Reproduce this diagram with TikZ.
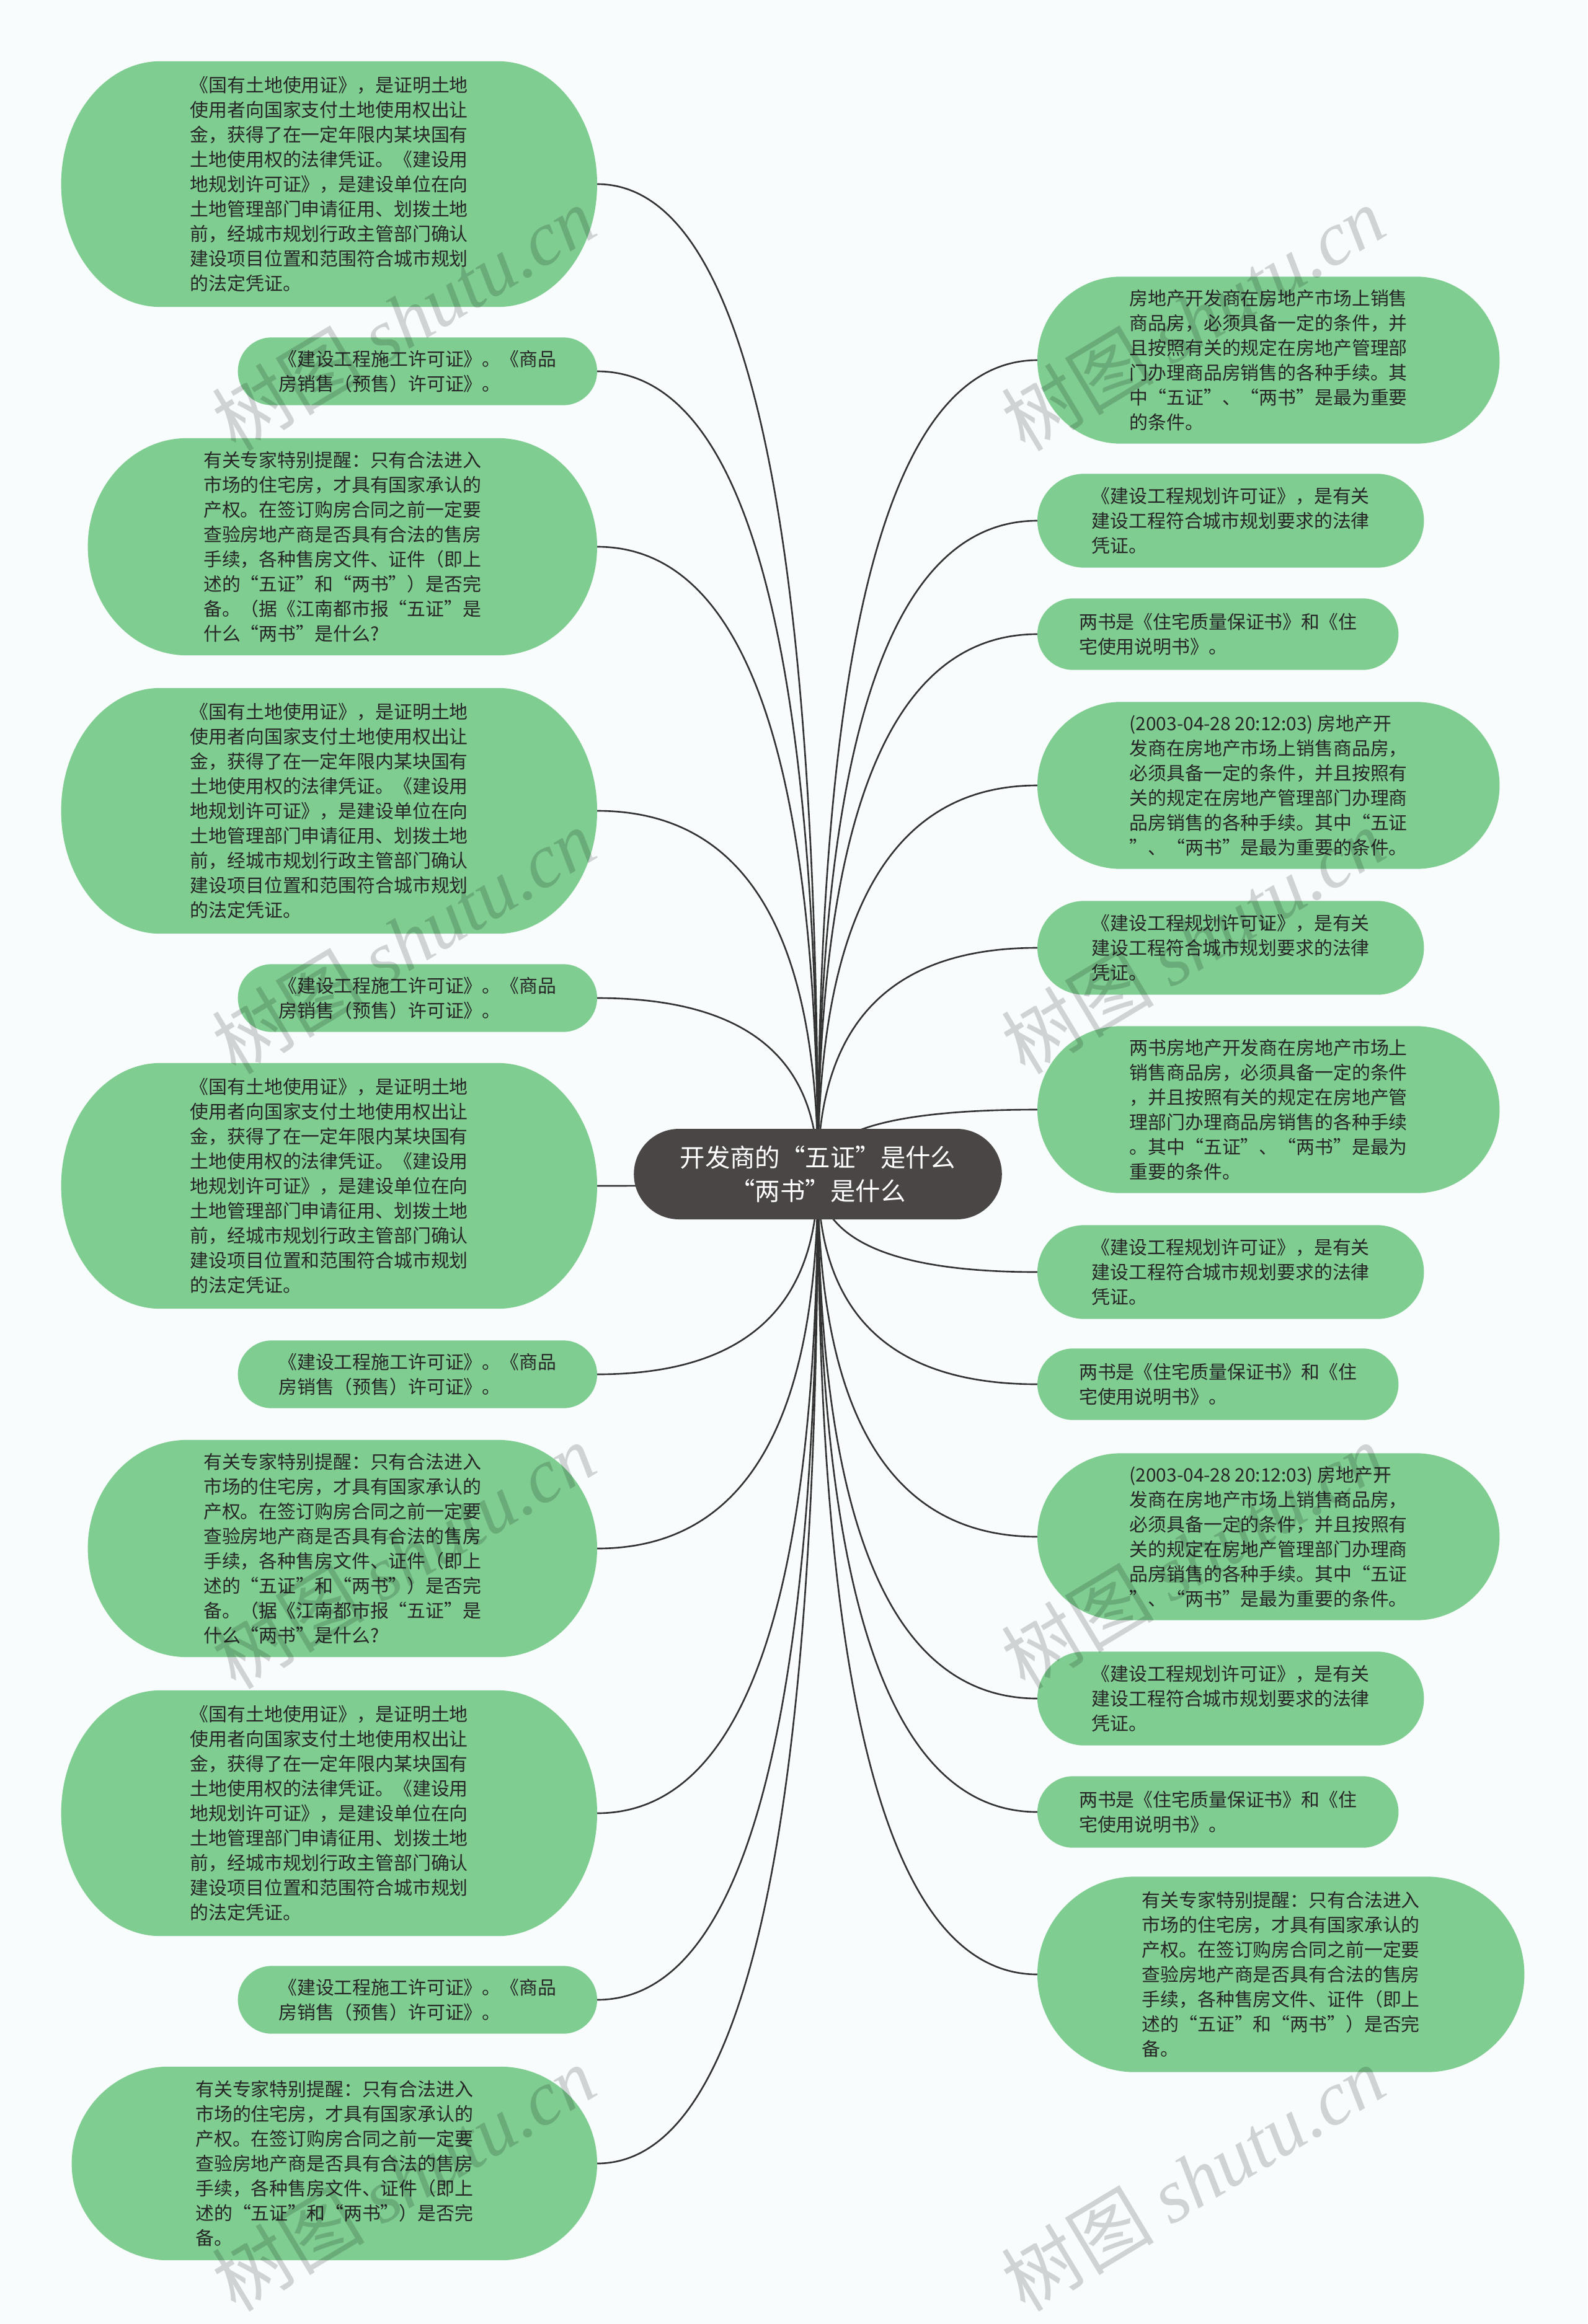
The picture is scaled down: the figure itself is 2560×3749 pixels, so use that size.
\documentclass[tikz,border=0pt]{standalone}
\usepackage{fontspec}
\setmainfont{Noto Sans CJK SC}
\newfontfamily\wmfont{Liberation Serif}
\usetikzlibrary{calc,backgrounds,shapes.misc}

\definecolor{bgcol}{HTML}{F8FCFC}
\definecolor{leafgreen}{HTML}{7FCD91}
\definecolor{rootgray}{HTML}{4B4646}
\definecolor{linkgray}{HTML}{333333}
\definecolor{leaftext}{HTML}{262626}

\tikzset{
  leaf/.style={inner sep=0pt, align=left, text=leaftext, font=\fontsize{8.5pt}{11.4pt}\selectfont},
  landbox/.style={leaf, minimum width=86.3mm, minimum height=39.5mm},
  permitbox/.style={leaf, minimum width=57.8mm, minimum height=10.8mm},
  tipbox/.style={leaf, minimum width=82mm, minimum height=34.9mm},
  salebox/.style={leaf, minimum width=74.4mm, minimum height=26.8mm},
  planbox/.style={leaf, minimum width=62.2mm, minimum height=15mm},
  bookbox/.style={leaf, minimum width=58.1mm, minimum height=11.4mm},
  rootbox/.style={rounded rectangle, fill=rootgray, text=white, align=center,
    minimum width=61.7mm, minimum height=14.6mm, font=\fontsize{11.5pt}{15.1pt}\selectfont},
  link/.style={draw=linkgray, line width=0.75pt},
  wmark/.style={text=black, text opacity=0.16, rotate=31, font=\fontsize{35pt}{40pt}\selectfont}
}

% leaf texts
\newcommand\landtext{《国有土地使用证》，是证明土地\\使用者向国家支付土地使用权出让\\金，获得了在一定年限内某块国有\\土地使用权的法律凭证。《建设用\\地规划许可证》，是建设单位在向\\土地管理部门申请征用、划拨土地\\前，经城市规划行政主管部门确认\\建设项目位置和范围符合城市规划\\的法定凭证。}
\newcommand\permittext{《建设工程施工许可证》。《商品\\房销售（预售）许可证》。}
\newcommand\notetext{有关专家特别提醒：只有合法进入\\市场的住宅房，才具有国家承认的\\产权。在签订购房合同之前一定要\\查验房地产商是否具有合法的售房\\手续，各种售房文件、证件（即上\\述的“五证”和“两书”）是否完\\备。}
\newcommand\tiptext{有关专家特别提醒：只有合法进入\\市场的住宅房，才具有国家承认的\\产权。在签订购房合同之前一定要\\查验房地产商是否具有合法的售房\\手续，各种售房文件、证件（即上\\述的“五证”和“两书”）是否完\\备。（据《江南都市报“五证”是\\什么“两书”是什么?}
\newcommand\saletext{房地产开发商在房地产市场上销售\\商品房，必须具备一定的条件，并\\且按照有关的规定在房地产管理部\\门办理商品房销售的各种手续。其\\中“五证”、“两书”是最为重要\\的条件。}
\newcommand\plantext{《建设工程规划许可证》，是有关\\建设工程符合城市规划要求的法律\\凭证。}
\newcommand\booktext{两书是《住宅质量保证书》和《住\\宅使用说明书》。}
\newcommand\datedtext{(2003-04-28 20:12:03) 房地产开\\发商在房地产市场上销售商品房，\\必须具备一定的条件，并且按照有\\关的规定在房地产管理部门办理商\\品房销售的各种手续。其中“五证\\”、“两书”是最为重要的条件。}
\newcommand\twotext{两书房地产开发商在房地产市场上\\销售商品房，必须具备一定的条件\\，并且按照有关的规定在房地产管\\理部门办理商品房销售的各种手续\\。其中“五证”、“两书”是最为\\重要的条件。}

% green pill behind a leaf
\newcommand\pill[1]{\fill[leafgreen] let \p1=(#1.north west), \p2=(#1.south east),
  \n1={0.5*(\y1-\y2)}, \n2={min(\n1,45.5pt)} in
  ({\x1+\n2},\y1) -- ({\x2-\n2},\y1) arc[start angle=90, end angle=-90, x radius=\n2, y radius=\n1]
  -- ({\x1+\n2},\y2) arc[start angle=-90, end angle=-270, x radius=\n2, y radius=\n1] -- cycle;}
\newcommand\branch[1]{\draw[link] (root.center) .. controls ($(root.center)!.667!(root.center |- #1)$)
  and ($(#1)!.667!(root.center |- #1)$) .. (#1);}

\begin{document}
\begin{tikzpicture}[x=0.1mm, y=-0.1mm]
\useasboundingbox (0,0) rectangle (2560,3749);

\node[rootbox] (root) at (1319,1894) {开发商的“五证”是什么\\“两书”是什么};

% left side
\node[landbox, anchor=east] (L1) at (963,297) {\landtext};
\node[permitbox, anchor=east] (L2) at (963,599) {\permittext};
\node[tipbox, anchor=east] (L3) at (963,882) {\tiptext};
\node[landbox, anchor=east] (L4) at (963,1308) {\landtext};
\node[permitbox, anchor=east] (L5) at (963,1610) {\permittext};
\node[landbox, anchor=east] (L6) at (963,1913) {\landtext};
\node[permitbox, anchor=east] (L7) at (963,2217) {\permittext};
\node[tipbox, anchor=east] (L8) at (963,2498) {\tiptext};
\node[landbox, anchor=east] (L9) at (963,2925) {\landtext};
\node[permitbox, anchor=east] (L10) at (963,3226) {\permittext};
\node[leaf, minimum width=84.6mm, minimum height=31.1mm, anchor=east] (L11) at (963,3490) {\notetext};

% right side
\node[salebox, anchor=west] (R1) at (1673,581) {\saletext};
\node[planbox, anchor=west] (R2) at (1673,840) {\plantext};
\node[bookbox, anchor=west] (R3) at (1673,1023) {\booktext};
\node[salebox, anchor=west] (R4) at (1673,1267) {\datedtext};
\node[planbox, anchor=west] (R5) at (1673,1529) {\plantext};
\node[salebox, anchor=west] (R6) at (1673,1790) {\twotext};
\node[planbox, anchor=west] (R7) at (1673,2052) {\plantext};
\node[bookbox, anchor=west] (R8) at (1673,2233) {\booktext};
\node[salebox, anchor=west] (R9) at (1673,2479) {\datedtext};
\node[planbox, anchor=west] (R10) at (1673,2740) {\plantext};
\node[bookbox, anchor=west] (R11) at (1673,2923) {\booktext};
\node[leaf, minimum width=78.4mm, minimum height=31.4mm, anchor=west] (R12) at (1673,3185) {\notetext};

\begin{scope}[on background layer]
  \fill[bgcol] (0,0) rectangle (2560,3749);
  \foreach \i in {1,...,11} \branch{L\i.east};
  \foreach \i in {1,...,12} \branch{R\i.west};
  \foreach \i in {1,...,11} \pill{L\i};
  \foreach \i in {1,...,12} \pill{R\i};
\end{scope}

% watermarks
\foreach \wx in {651,1924}
  \foreach \wy in {514,1518,2510,3514}
    \node[wmark] (w\wx-\wy) at (\wx,\wy) {树图 {\wmfont\itshape shutu.cn}};
\end{tikzpicture}
\end{document}
